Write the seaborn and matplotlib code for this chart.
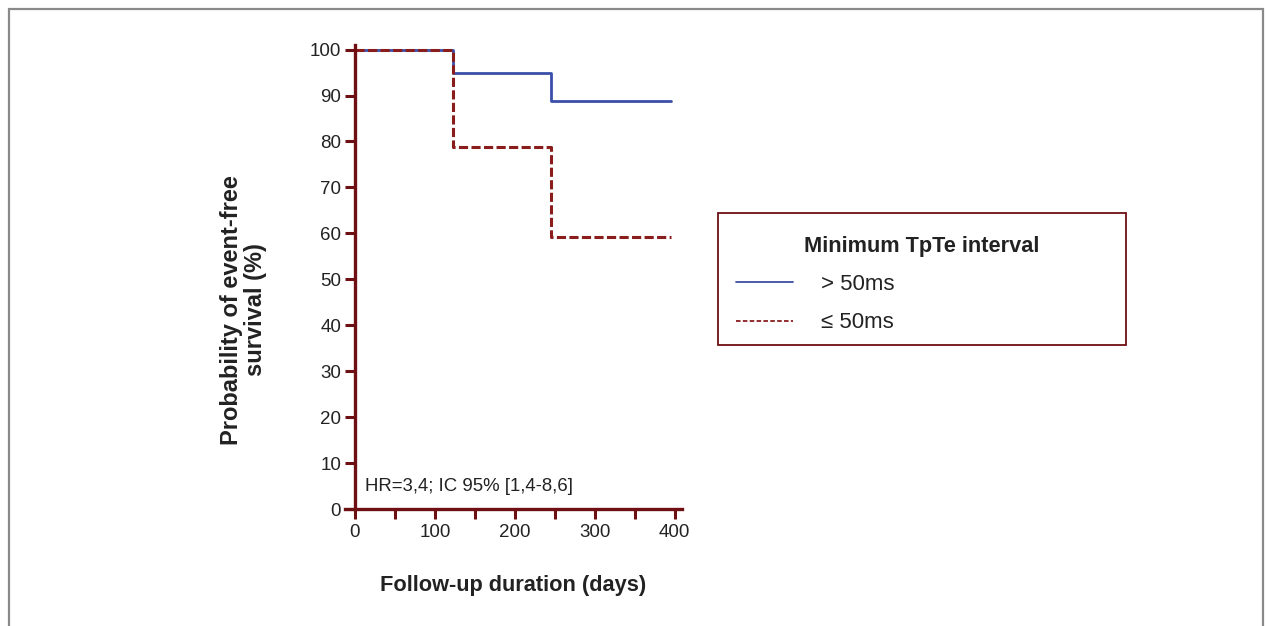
import numpy as np
import pandas as pd
import matplotlib
matplotlib.use("Agg")
import matplotlib.pyplot as plt
from matplotlib.patches import Rectangle
from matplotlib.lines import Line2D
from matplotlib.ticker import MultipleLocator
import seaborn as sns

# %% dados
dias = [0, 122, 245, 395]
sobrevida_maior50 = [100, 94.8, 88.9, 88.9]
sobrevida_menor50 = [100, 78.9, 59.2, 59.2]
grupos = ["> 50ms", "≤ 50ms"]

xticks = [0, 100, 200, 300, 400]
yticks = list(range(0, 101, 10))

# %% estilo
sns.set_style("white")
plt.rcParams['font.family'] = ['Liberation Sans', 'DejaVu Sans']

cor_eixo = "#6e0f14"
cor_azul = "#3a4fa8"
cor_vermelho = "#8a1c1c"
cor_texto = "#222222"

df = pd.DataFrame({
    "dias": dias * 2,
    "sobrevida": sobrevida_maior50 + sobrevida_menor50,
    "grupo": [grupos[0]] * len(dias) + [grupos[1]] * len(dias),
})

fig = plt.figure(figsize=(12.66, 6.26), dpi=100)
ax = fig.add_axes([345 / 1266, 1 - 509 / 626, 337 / 1266, 464 / 626])

sns.lineplot(data=df, x="dias", y="sobrevida", hue="grupo", style="grupo",
             palette=[cor_azul, cor_vermelho], dashes=["", (3, 1.1)],
             drawstyle="steps-post", linewidth=2.2, legend=False, ax=ax)
ax.lines[0].set_linewidth(2.0)

ax.set_xlim(-12.5, 409)
ax.set_ylim(0, 101)
ax.set_xticks(xticks)
ax.xaxis.set_minor_locator(MultipleLocator(50))
ax.set_yticks(yticks)

for s in ["top", "right"]:
    ax.spines[s].set_visible(False)
ax.spines["left"].set_position(("data", 0))
for s in ["left", "bottom"]:
    ax.spines[s].set_color(cor_eixo)
    ax.spines[s].set_linewidth(2.4)

ax.tick_params(axis="both", which="both", direction="out", length=7, width=2.2,
               color=cor_eixo, labelsize=13.5, labelcolor=cor_texto, pad=3,
               bottom=True, left=True)
ax.tick_params(axis="x", which="both", pad=4)

ax.set_xlabel("Follow-up duration (days)", fontsize=15.7, fontweight="bold",
              color=cor_texto, labelpad=24)
ax.set_ylabel("Probability of event-free\nsurvival (%)", fontsize=17,
              fontweight="bold", color=cor_texto, linespacing=1.05)
ax.yaxis.set_label_coords(-0.232, 0.429)

ax.text(12, 5.0, "HR=3,4; IC 95% [1,4-8,6]", fontsize=13.4, color=cor_texto,
        va="center", ha="left")

# legenda (moldura desenhada à parte)
handles = [Line2D([], [], color=cor_azul, lw=1.3),
           Line2D([], [], color=cor_vermelho, lw=1.3, ls=(0, (2.5, 1.3)))]
leg = fig.legend(handles, grupos, title="Minimum TpTe interval",
                 loc="upper left", mode="expand",
                 bbox_to_anchor=(718 / 1266, 0.3, 408 / 1266, 1 - 218 / 626 - 0.3),
                 bbox_transform=fig.transFigure, borderaxespad=0,
                 fontsize=16, title_fontproperties={"weight": "bold", "size": 15.7},
                 handlelength=2.57, handletextpad=1.26, labelspacing=0.78,
                 borderpad=0.8, frameon=False)
for t in leg.get_texts():
    t.set_color(cor_texto)
leg.get_title().set_color(cor_texto)

fig.patches.append(Rectangle((718 / 1266, 1 - 345 / 626), 408 / 1266, 132 / 626,
                             transform=fig.transFigure, fill=False,
                             edgecolor=cor_eixo, linewidth=1.3))

# moldura cinza
fig.patches.append(Rectangle((9 / 1266, -0.1), (1263 - 9) / 1266, 1.1 - 9 / 626,
                             transform=fig.transFigure, fill=False,
                             edgecolor="#8a8a8a", linewidth=1.6))

fig.savefig("out.png", dpi=100)
